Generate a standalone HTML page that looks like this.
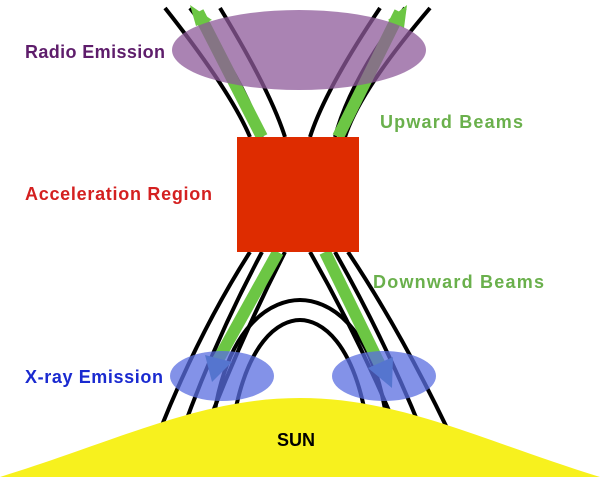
<!DOCTYPE html>
<html><head><style>
body{margin:0;background:#fff;}
svg{display:block;}
text{font-family:"Liberation Sans",sans-serif;font-weight:bold;font-size:18px;}
</style></head><body>
<svg width="600" height="483" viewBox="0 0 600 483" xmlns="http://www.w3.org/2000/svg">
<g fill="none" stroke="#000" stroke-width="4">
<path d="M165,8 Q230,90 250,137"/>
<path d="M220,8 Q270,90 285,137"/>
<path d="M380,8 Q325,90 310,137"/>
<path d="M430,8 Q360,90 345,137"/>
<path d="M190,8 Q245,80 262,137"/>
<path d="M405,8 Q350,80 335,137"/>
</g>
<path d="M262,137 L198,12" stroke="#6cc644" stroke-width="12" fill="none"/>
<polygon points="190,5 212,20 196,26" fill="#6cc644"/>
<path d="M338,137 L400,12" stroke="#6cc644" stroke-width="12" fill="none"/>
<polygon points="407,5 404,28 388,20" fill="#6cc644"/>
<ellipse cx="299" cy="50" rx="127" ry="40" fill="#8e5a9a" fill-opacity="0.75"/>
<g fill="none" stroke="#000" stroke-width="4">
<path d="M250,252 Q200,330 160,430"/>
<path d="M262,252 Q215,340 182,432"/>
<path d="M285,252 Q240,340 205,432"/>
<path d="M310,252 Q360,340 398,432"/>
<path d="M335,252 Q385,340 422,432"/>
<path d="M348,252 Q400,330 448,430"/>
<path d="M212,430 C225,320 275,300 300,300 C325,300 375,320 388,430"/>
<path d="M232,430 C245,340 280,320 300,320 C320,320 355,340 368,430"/>
</g>
<path d="M278,252 L218,360" stroke="#6cc644" stroke-width="12" fill="none"/>
<polygon points="205,355 232,362 212,382" fill="#4a8a9a"/>
<path d="M325,252 L380,365" stroke="#6cc644" stroke-width="12" fill="none"/>
<polygon points="368,368 393,357 392,388" fill="#4a8a9a"/>
<rect x="237" y="137" width="122" height="115" fill="#de2c00"/>
<ellipse cx="222" cy="376" rx="52" ry="25" fill="#5a6ee0" fill-opacity="0.75"/>
<ellipse cx="384" cy="376" rx="52" ry="25" fill="#5a6ee0" fill-opacity="0.75"/>
<path d="M0,477 C120,440 200,398 300,398 C400,398 480,440 600,477 Z" fill="#f7f11e"/>
<text x="25" y="58" fill="#5e1d6b" textLength="140">Radio Emission</text>
<text x="380" y="128" fill="#6ab04c" textLength="143">Upward Beams</text>
<text x="25" y="200" fill="#d42020" textLength="187">Acceleration Region</text>
<text x="373" y="288" fill="#6ab04c" textLength="171">Downward Beams</text>
<text x="25" y="383" fill="#1a2ad0" textLength="138">X-ray Emission</text>
<text x="277" y="446" fill="#000">SUN</text>
</svg>
</body></html>
